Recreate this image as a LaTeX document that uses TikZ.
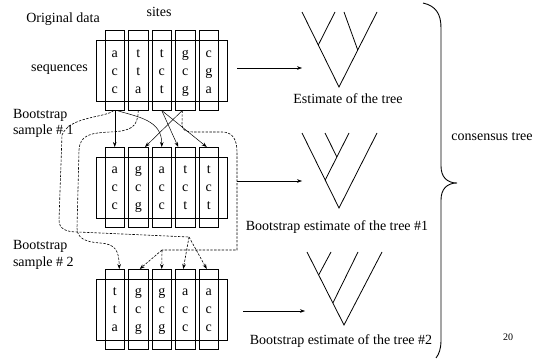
\documentclass[tikz,border=0pt]{standalone}
\usepackage{fontspec}
\setmainfont{Liberation Serif}
\usetikzlibrary{arrows.meta,calc}

% One block of aligned sequences: #1 = name prefix, #2 = top edge (pt, downwards),
% #3 = list of columns, each as column/first/second/third letter
\newcommand\seqblock[3]{%
  \node[seqrow] (#1row) at (161.5,{-(#2+40.5)}) {};
  \foreach \ci/\la/\lb/\lc in {#3} {%
    \node[seqcol] (#1c\ci) at ({91.25+23.5*\ci},{-(#2+40)}) {};
    \node[txt,anchor=base] (#1c\ci-1) at ({91.25+23.5*\ci},{-(#2+26.6)}) {\la};
    \node[txt,anchor=base] (#1c\ci-2) at ({91.25+23.5*\ci},{-(#2+44.6)}) {\lb};
    \node[txt,anchor=base] (#1c\ci-3) at ({91.25+23.5*\ci},{-(#2+62.6)}) {\lc};
  }%
}

\begin{document}
\begin{tikzpicture}[x=1pt,y=1pt,
  every node/.style={inner sep=0pt,outer sep=0pt},
  txt/.style={font=\fontsize{14}{16}\selectfont},
  small/.style={font=\fontsize{10}{12}\selectfont},
  seqcol/.style={draw,line width=0.9pt,minimum width=19.5pt,minimum height=80pt},
  seqrow/.style={draw,line width=0.9pt,minimum width=131pt,minimum height=61pt},
  solidarr/.style={line width=0.5pt,-{Stealth[length=5pt,width=3.6pt]}},
  dashline/.style={line width=0.6pt,dash pattern=on 2.4pt off 1.4pt},
  dasharr/.style={dashline,-{Stealth[length=5pt,width=3.6pt]}},
  treeline/.style={line width=0.8pt},
  bracestyle/.style={line width=0.9pt},
]
\useasboundingbox (0,0) rectangle (545,-358);

% labels on the left
\node[txt,anchor=base] (orig) at (63,-23) {Original data};
\node[txt,anchor=base] (sites) at (159,-17) {sites};
\node[txt,anchor=base] (seqs) at (59.5,-72) {sequences};
\node[txt,anchor=base west] (bs1a) at (13,-119) {Bootstrap};
\node[txt,anchor=base west] (bs1b) at (13,-135) {sample \# 1};
\node[txt,anchor=base west] (bs2a) at (13,-249) {Bootstrap};
\node[txt,anchor=base west] (bs2b) at (13,-266) {sample \# 2};

% the three sequence blocks
\seqblock{b1}{30.5}{1/a/c/c,2/t/t/a,3/t/c/t,4/g/c/g,5/c/g/a}
\seqblock{b2}{147}{1/a/c/c,2/g/c/g,3/a/c/c,4/t/c/t,5/t/c/t}
\seqblock{b3}{269}{1/t/t/a,2/g/c/g,3/g/c/g,4/a/c/c,5/a/c/c}

% resampling of sample 1 (solid)
\draw[solidarr] (b1c1.south) -- (b2c1.north);
\draw[solidarr] ($(b1c1.south)+(2,0)$) .. controls (138,-117) and (162,-120) .. (b2c3.north);
\draw[solidarr] ($(b1c4.south)+(-3,0)$) -- ($(b2c2.north)+(6.75,0)$);
\draw[solidarr] (b1c3.south) -- ($(b2c4.north)+(-7,0)$);
\draw[solidarr] (b1c3.south) -- ($(b2c5.north)+(-2,0)$);

% resampling of sample 2 (dashed)
\coordinate (acc) at (189,-237);
\coordinate (gcg) at (162,-250);
\draw[dashline] ($(b1c1.south)+(-1,0)$) .. controls (105,-118) and (70,-116) .. (62,-135)
  -- (59,-220) .. controls (59,-229) and (66,-232) .. (78,-232) -- (acc);
\draw[dasharr] (acc) -- ($(b3c4.north)+(-2,0)$);
\draw[dasharr] (acc) -- ($(b3c5.north)+(-2,0)$);
\draw[dasharr] (b1c2.south) .. controls (138,-128) and (130,-131) .. (110,-132)
  .. controls (90,-133) and (80,-135) .. (79,-150) -- (77,-228)
  .. controls (77,-238) and (85,-242) .. (100,-243)
  .. controls (115,-244) and (119,-250) .. ($(b3c1.north)+(4.5,0)$);
\draw[dashline] ($(b1c4.south)+(-3,0)$) -- (182,-125) .. controls (182,-131) and (187,-132) .. (195,-132)
  -- (222,-132) .. controls (233,-132) and (237,-140) .. (237,-152) -- (237,-250) -- (gcg);
\draw[dasharr] (gcg) -- (b3c3.north);
\draw[dasharr] (gcg) -- ($(b3c2.north)+(1.5,0)$);

% arrows towards the trees
\coordinate (e1s) at (237,-68);  \coordinate (e1t) at (302,-68);
\coordinate (e2s) at (237,-181); \coordinate (e2t) at (302,-181);
\coordinate (e3s) at (243,-311); \coordinate (e3t) at (305,-311);
\draw[solidarr] (e1s) -- (e1t);
\draw[solidarr] (e2s) -- (e2t);
\draw[solidarr] (e3s) -- (e3t);

% tree estimated from the original data
\coordinate (r1) at (339,-87);
\coordinate (l11) at (302,-12); \coordinate (l12) at (335,-12);
\coordinate (l13) at (344,-12); \coordinate (l14) at (377,-12);
\draw[treeline] (l11) -- (r1) -- (l14);
\draw[treeline] ($(r1)!0.56!(l11)$) -- (l12);
\draw[treeline] ($(r1)!0.493!(l14)$) -- (l13);
\node[txt,anchor=base] (t1) at (348,-104) {Estimate of the tree};

% tree from bootstrap sample 1
\coordinate (r2) at (339,-208);
\coordinate (l21) at (302,-133); \coordinate (l22) at (325,-133);
\coordinate (l23) at (349,-133); \coordinate (l24) at (377,-133);
\coordinate (m2) at ($(r2)!0.373!(l21)$);
\draw[treeline] (l21) -- (r2) -- (l24);
\draw[treeline] (l23) -- (m2);
\draw[treeline] (l22) -- ($(l23)!0.51!(m2)$);
\node[txt,anchor=base] (t2) at (337,-230) {Bootstrap estimate of the tree \#1};

% tree from bootstrap sample 2
\coordinate (r3) at (344,-325);
\coordinate (l31) at (307,-252); \coordinate (l32) at (331,-252);
\coordinate (l33) at (358,-252); \coordinate (l34) at (382,-252);
\draw[treeline] (l31) -- (r3) -- (l34);
\draw[treeline] (l32) -- ($(r3)!0.685!(l31)$);
\draw[treeline] (l33) -- ($(r3)!0.301!(l31)$);
\node[txt,anchor=base] (t3) at (341,-344) {Bootstrap estimate of the tree \#2};

% brace gathering the trees
\draw[bracestyle] (423,-3) .. controls (436,-6) and (441,-14) .. (441,-28) -- (441,-166)
  .. controls (441,-177) and (447,-183) .. (457,-183)
  .. controls (447,-183) and (441,-189) .. (441,-200) -- (441,-340)
  .. controls (441,-349) and (439,-354) .. (436,-358);
\node[txt,anchor=base] (cons) at (492,-140) {consensus tree};
\node[small,anchor=base] (pg) at (508,-340) {20};
\end{tikzpicture}
\end{document}
